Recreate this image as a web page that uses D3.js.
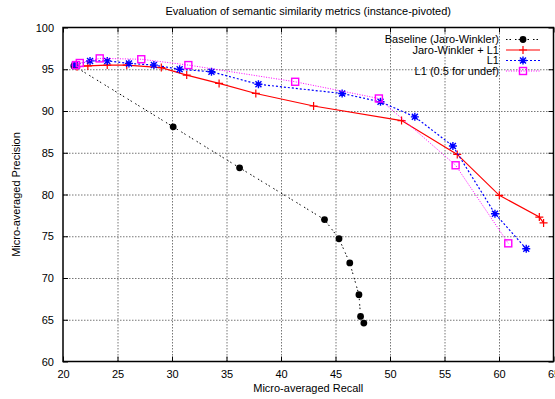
<!DOCTYPE html>
<html>
<head>
<meta charset="utf-8">
<script src="https://cdn.jsdelivr.net/npm/d3@7"></script>
<style>
  body { margin: 0; background: #fff; }
  text { font-family: "Liberation Sans", Arial, sans-serif; fill: #000; }
</style>
</head>
<body>
<div id="chart"></div>
<script>
// values (recall %, precision %)
const baselineRecall = [21.0, 30.11, 36.2, 43.99, 45.32, 46.31, 47.15, 47.3, 47.6];
const baselinePrecision = [95.4, 88.1, 83.2, 77.0, 74.7, 71.8, 68.0, 65.4, 64.6];

const jwL1Recall = [21.29, 22.28, 24.06, 25.85, 29.02, 31.35, 34.32, 37.69, 42.99, 51.06, 56.17, 60.03, 63.7, 64.09];
const jwL1Precision = [95.3, 95.4, 95.5, 95.5, 95.2, 94.3, 93.3, 92.1, 90.6, 88.85, 84.8, 79.9, 77.3, 76.6];

const l1Recall = [21.09, 22.48, 24.06, 26.05, 28.34, 30.7, 33.62, 37.93, 45.61, 49.13, 52.28, 55.77, 59.63, 62.5];
const l1Precision = [95.5, 96.0, 96.0, 95.7, 95.5, 95.0, 94.7, 93.2, 92.1, 91.1, 89.3, 85.8, 77.7, 73.5];

const l1HalfRecall = [21.19, 21.54, 23.37, 27.18, 31.5, 41.3, 48.98, 56.02, 60.85];
const l1HalfPrecision = [95.5, 95.75, 96.3, 96.2, 95.5, 93.5, 91.5, 83.5, 74.15];

const seriesNames = ['Baseline (Jaro-Winkler)', 'Jaro-Winkler + L1', 'L1', 'L1 (0.5 for undef)'];
const xTicks = [20, 25, 30, 35, 40, 45, 50, 55, 60, 65];
const yTicks = [60, 65, 70, 75, 80, 85, 90, 95, 100];

const W = 555, H = 399;
const m = { top: 27.5, right: 1.5, bottom: 37.5, left: 63 };
const w = W - m.left - m.right, h = H - m.top - m.bottom;

const svg = d3.select('#chart').append('svg')
  .attr('width', W).attr('height', H);

const g = svg.append('g').attr('transform', `translate(${m.left},${m.top})`);

const x = d3.scaleLinear().domain([20, 65]).range([0, w]);
const y = d3.scaleLinear().domain([60, 100]).range([h, 0]);

// grid
const grid = g.append('g').attr('class', 'grid');
grid.append('g')
  .attr('transform', `translate(0,${h})`)
  .call(d3.axisBottom(x).tickValues(xTicks.slice(1, -1)).tickSize(-h).tickFormat(''));
grid.append('g')
  .call(d3.axisLeft(y).tickValues(yTicks.slice(1, -1)).tickSize(-w).tickFormat(''));
grid.selectAll('.domain').remove();
grid.selectAll('line')
  .attr('stroke', '#777').attr('stroke-width', 1).attr('stroke-dasharray', '1.5,1.5');

// axes, ticks inward like gnuplot
const axisStyle = sel => {
  sel.selectAll('.domain').remove();
  sel.selectAll('text').style('font-size', '11px');
  sel.selectAll('line').attr('stroke', '#000');
};
g.append('g').attr('transform', `translate(0,${h})`)
  .call(d3.axisBottom(x).tickValues(xTicks).tickSize(-5).tickPadding(9).tickFormat(d3.format('d')))
  .call(axisStyle);
g.append('g')
  .call(d3.axisTop(x).tickValues(xTicks).tickSize(-5).tickFormat(''))
  .call(axisStyle);
g.append('g')
  .call(d3.axisLeft(y).tickValues(yTicks).tickSize(-5).tickPadding(9).tickFormat(d3.format('d')))
  .call(axisStyle);
g.append('g').attr('transform', `translate(${w},0)`)
  .call(d3.axisRight(y).tickValues(yTicks).tickSize(-5).tickFormat(''))
  .call(axisStyle);

g.append('rect')
  .attr('width', w).attr('height', h)
  .attr('fill', 'none').attr('stroke', '#000').attr('stroke-width', 1.5);

// symbols
const plusPath = 'M-4,0H4M0,-4V4';
const starPath = 'M-4,0H4M0,-4V4M-3,-3L3,3M-3,3L3,-3';
const drawMarker = (sel, kind, color) => {
  if (kind === 'circle') {
    sel.append('circle').attr('r', 3.4).attr('fill', color);
  } else if (kind === 'plus') {
    sel.append('path').attr('d', plusPath).attr('stroke', color).attr('stroke-width', 1.2).attr('fill', 'none');
  } else if (kind === 'star') {
    sel.append('path').attr('d', starPath).attr('stroke', color).attr('stroke-width', 1.4).attr('fill', 'none');
  } else {
    sel.append('rect').attr('x', -3.5).attr('y', -3.5).attr('width', 7).attr('height', 7)
      .attr('stroke', color).attr('stroke-width', 1.4).attr('fill', 'none');
  }
};

const series = [
  { name: seriesNames[0], xs: baselineRecall, ys: baselinePrecision, color: '#000', dash: '1.5,2,1.5,4', width: 1, marker: 'circle' },
  { name: seriesNames[1], xs: jwL1Recall, ys: jwL1Precision, color: '#ff0000', dash: null, width: 1.2, marker: 'plus' },
  { name: seriesNames[2], xs: l1Recall, ys: l1Precision, color: '#0000ff', dash: '2,2', width: 1.2, marker: 'star' },
  { name: seriesNames[3], xs: l1HalfRecall, ys: l1HalfPrecision, color: '#ff00ff', dash: '1,1.5', width: 1, marker: 'square' }
];

const line = d3.line().x(d => x(d[0])).y(d => y(d[1]));

series.forEach(s => {
  const pts = s.xs.map((v, i) => [v, s.ys[i]]);
  g.append('path')
    .datum(pts)
    .attr('d', line)
    .attr('fill', 'none')
    .attr('stroke', s.color)
    .attr('stroke-width', s.width)
    .attr('stroke-dasharray', s.dash);
  g.selectAll(null)
    .data(pts)
    .enter()
    .append('g')
    .attr('transform', d => `translate(${x(d[0])},${y(d[1])})`)
    .each(function () { drawMarker(d3.select(this), s.marker, s.color); });
});

// legend
const legend = svg.append('g').attr('transform', 'translate(499,39.5)');
series.forEach((s, i) => {
  const row = legend.append('g').attr('transform', `translate(0,${i * 10.5})`);
  row.append('text')
    .attr('text-anchor', 'end')
    .attr('dy', '0.35em')
    .style('font-size', '11px')
    .text(s.name);
  row.append('line')
    .attr('x1', 7).attr('x2', 41)
    .attr('stroke', s.color)
    .attr('stroke-width', s.width)
    .attr('stroke-dasharray', s.dash);
  drawMarker(row.append('g').attr('transform', 'translate(24,0)'), s.marker, s.color);
});

// titles
svg.append('text')
  .attr('x', m.left + w / 2).attr('y', 15)
  .attr('text-anchor', 'middle')
  .style('font-size', '11px')
  .text('Evaluation of semantic similarity metrics (instance-pivoted)');
svg.append('text')
  .attr('x', m.left + w / 2).attr('y', 392)
  .attr('text-anchor', 'middle')
  .style('font-size', '11px')
  .text('Micro-averaged Recall');
svg.append('text')
  .attr('transform', `translate(20,${m.top + h / 2}) rotate(-90)`)
  .attr('text-anchor', 'middle')
  .style('font-size', '11px')
  .text('Micro-averaged Precision');
</script>
</body>
</html>
